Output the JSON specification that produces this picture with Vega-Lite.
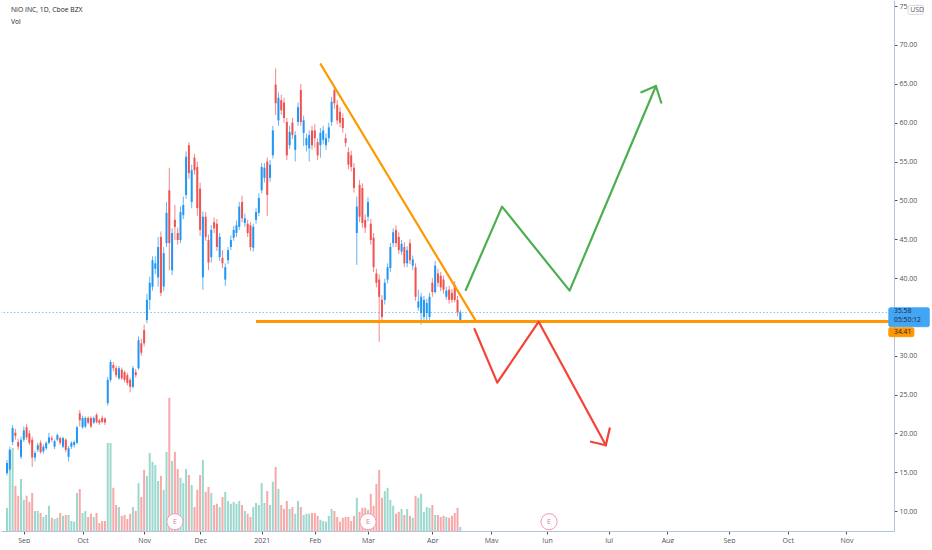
{
  "$schema": "https://vega.github.io/schema/vega-lite/v6.json",
  "width": 893,
  "height": 531,
  "autosize": {"type": "pad"},
  "padding": 0,
  "background": "#ffffff",
  "config": {
    "view": {"stroke": null},
    "axis": {
      "labelFont": "Open Sans",
      "labelFontSize": 7,
      "labelColor": "#50535e",
      "domainColor": "#b4c2da",
      "tickColor": "#50535e",
      "tickSize": 3,
      "grid": false
    }
  },
  "datasets": {
    "candles": [
      {"i":-6,"o":14.9,"h":16.6,"l":14.6,"c":16.2,"v":58},
      {"i":-5,"o":15.4,"h":18.3,"l":15.2,"c":17.9,"v":203},
      {"i":-4,"o":18.9,"h":21.1,"l":18.5,"c":20.7,"v":208},
      {"i":-3,"o":20.1,"h":20.6,"l":19.2,"c":19.7,"v":113},
      {"i":-2,"o":18.9,"h":19.3,"l":17.9,"c":18.3,"v":88},
      {"i":-1,"o":17.0,"h":19.6,"l":16.7,"c":19.2,"v":130},
      {"i":0,"o":19.2,"h":20.9,"l":18.9,"c":20.4,"v":78},
      {"i":1,"o":20.8,"h":21.2,"l":19.2,"c":19.5,"v":88},
      {"i":2,"o":20.0,"h":20.4,"l":18.5,"c":18.8,"v":73},
      {"i":3,"o":19.2,"h":19.6,"l":15.7,"c":16.9,"v":95},
      {"i":4,"o":16.9,"h":17.8,"l":16.4,"c":17.5,"v":50},
      {"i":5,"o":17.9,"h":18.8,"l":17.6,"c":18.5,"v":50},
      {"i":6,"o":18.8,"h":19.1,"l":17.4,"c":17.6,"v":45},
      {"i":7,"o":17.7,"h":18.6,"l":17.4,"c":18.3,"v":35},
      {"i":8,"o":18.1,"h":19.0,"l":17.9,"c":18.8,"v":40},
      {"i":9,"o":18.8,"h":20.1,"l":18.6,"c":19.5,"v":63},
      {"i":10,"o":19.4,"h":19.7,"l":18.9,"c":19.2,"v":33},
      {"i":11,"o":18.3,"h":19.2,"l":18.0,"c":19.0,"v":30},
      {"i":12,"o":19.2,"h":20.0,"l":19.0,"c":19.8,"v":33},
      {"i":13,"o":19.4,"h":19.6,"l":18.5,"c":18.8,"v":45},
      {"i":14,"o":18.3,"h":19.6,"l":18.1,"c":19.4,"v":38},
      {"i":15,"o":19.2,"h":19.4,"l":17.6,"c":17.9,"v":40},
      {"i":16,"o":17.0,"h":18.4,"l":16.4,"c":18.1,"v":40},
      {"i":17,"o":18.3,"h":19.0,"l":18.0,"c":18.8,"v":25},
      {"i":18,"o":18.5,"h":19.1,"l":18.2,"c":18.9,"v":23},
      {"i":19,"o":18.8,"h":21.0,"l":18.6,"c":20.8,"v":95},
      {"i":20,"o":22.6,"h":23.0,"l":20.9,"c":21.7,"v":105},
      {"i":21,"o":20.8,"h":22.3,"l":20.6,"c":22.0,"v":45},
      {"i":22,"o":20.9,"h":22.2,"l":20.7,"c":22.0,"v":50},
      {"i":23,"o":22.0,"h":22.2,"l":21.2,"c":21.4,"v":35},
      {"i":24,"o":22.0,"h":22.2,"l":20.7,"c":20.9,"v":43},
      {"i":25,"o":21.4,"h":22.2,"l":21.2,"c":22.0,"v":35},
      {"i":26,"o":22.4,"h":22.6,"l":21.3,"c":21.5,"v":45},
      {"i":27,"o":21.7,"h":21.9,"l":21.1,"c":21.35,"v":20},
      {"i":28,"o":22.0,"h":22.3,"l":21.3,"c":21.5,"v":25},
      {"i":29,"o":21.9,"h":22.1,"l":21.1,"c":21.4,"v":25},
      {"i":30,"o":23.9,"h":27.3,"l":23.6,"c":26.9,"v":220},
      {"i":31,"o":26.9,"h":29.5,"l":26.6,"c":29.2,"v":220},
      {"i":32,"o":28.8,"h":29.2,"l":28.0,"c":28.4,"v":108},
      {"i":33,"o":28.4,"h":28.7,"l":27.2,"c":27.5,"v":65},
      {"i":34,"o":27.1,"h":28.7,"l":26.9,"c":28.4,"v":60},
      {"i":35,"o":28.2,"h":28.5,"l":26.9,"c":27.1,"v":38},
      {"i":36,"o":27.9,"h":28.1,"l":26.6,"c":26.9,"v":40},
      {"i":37,"o":27.5,"h":27.8,"l":26.2,"c":26.5,"v":30},
      {"i":38,"o":26.9,"h":27.2,"l":25.3,"c":26.0,"v":43},
      {"i":39,"o":26.0,"h":28.7,"l":25.8,"c":28.4,"v":60},
      {"i":40,"o":27.9,"h":28.3,"l":27.2,"c":27.5,"v":50},
      {"i":41,"o":28.4,"h":32.5,"l":28.2,"c":32.0,"v":120},
      {"i":42,"o":31.6,"h":32.2,"l":30.0,"c":30.4,"v":85},
      {"i":43,"o":33.3,"h":34.0,"l":31.2,"c":31.6,"v":153},
      {"i":44,"o":34.6,"h":38.0,"l":34.2,"c":37.2,"v":138},
      {"i":45,"o":37.2,"h":40.2,"l":35.9,"c":39.4,"v":195},
      {"i":46,"o":38.9,"h":42.8,"l":38.4,"c":42.3,"v":173},
      {"i":47,"o":41.2,"h":42.8,"l":40.5,"c":41.9,"v":165},
      {"i":48,"o":40.1,"h":45.3,"l":38.9,"c":44.0,"v":125},
      {"i":49,"o":45.3,"h":46.0,"l":37.7,"c":38.1,"v":138},
      {"i":50,"o":38.9,"h":44.0,"l":38.3,"c":43.2,"v":103},
      {"i":51,"o":44.5,"h":49.8,"l":44.0,"c":48.4,"v":198},
      {"i":52,"o":51.3,"h":54.2,"l":41.0,"c":44.5,"v":333},
      {"i":53,"o":41.0,"h":46.4,"l":40.4,"c":45.8,"v":175},
      {"i":54,"o":47.5,"h":49.4,"l":44.9,"c":46.6,"v":198},
      {"i":55,"o":45.8,"h":46.5,"l":44.3,"c":44.9,"v":155},
      {"i":56,"o":44.9,"h":49.2,"l":44.5,"c":48.5,"v":133},
      {"i":57,"o":48.1,"h":50.5,"l":47.6,"c":49.4,"v":120},
      {"i":58,"o":50.7,"h":56.3,"l":50.2,"c":55.6,"v":155},
      {"i":59,"o":57.1,"h":57.5,"l":52.8,"c":53.5,"v":140},
      {"i":60,"o":49.8,"h":54.6,"l":49.0,"c":53.9,"v":115},
      {"i":61,"o":55.5,"h":56.0,"l":53.3,"c":53.9,"v":60},
      {"i":62,"o":54.3,"h":55.0,"l":48.0,"c":49.0,"v":103},
      {"i":63,"o":51.5,"h":52.3,"l":45.4,"c":46.2,"v":140},
      {"i":64,"o":40.1,"h":48.6,"l":38.5,"c":47.9,"v":178},
      {"i":65,"o":47.9,"h":48.5,"l":44.8,"c":45.3,"v":98},
      {"i":66,"o":44.9,"h":45.6,"l":41.0,"c":42.0,"v":110},
      {"i":67,"o":42.7,"h":46.8,"l":42.0,"c":46.2,"v":95},
      {"i":68,"o":47.2,"h":47.8,"l":45.8,"c":46.4,"v":65},
      {"i":69,"o":47.0,"h":47.6,"l":43.5,"c":44.0,"v":68},
      {"i":70,"o":42.7,"h":45.8,"l":42.2,"c":45.3,"v":60},
      {"i":71,"o":42.6,"h":43.6,"l":41.3,"c":41.9,"v":85},
      {"i":72,"o":39.8,"h":41.9,"l":39.0,"c":41.4,"v":98},
      {"i":73,"o":42.3,"h":44.0,"l":41.8,"c":43.6,"v":75},
      {"i":74,"o":44.0,"h":45.5,"l":43.6,"c":44.9,"v":68},
      {"i":75,"o":45.2,"h":46.7,"l":44.8,"c":46.2,"v":73},
      {"i":76,"o":45.8,"h":47.4,"l":45.3,"c":46.8,"v":68},
      {"i":77,"o":46.6,"h":49.8,"l":46.2,"c":49.2,"v":75},
      {"i":78,"o":49.8,"h":50.6,"l":47.2,"c":47.7,"v":65},
      {"i":79,"o":47.1,"h":48.3,"l":46.6,"c":47.7,"v":50},
      {"i":80,"o":47.0,"h":47.5,"l":45.3,"c":45.8,"v":43},
      {"i":81,"o":46.8,"h":47.2,"l":43.5,"c":44.0,"v":35},
      {"i":82,"o":43.9,"h":47.0,"l":43.4,"c":46.6,"v":60},
      {"i":83,"o":47.5,"h":49.0,"l":47.0,"c":48.5,"v":70},
      {"i":84,"o":48.4,"h":50.9,"l":48.0,"c":50.3,"v":65},
      {"i":85,"o":51.3,"h":54.8,"l":50.9,"c":54.3,"v":120},
      {"i":86,"o":52.9,"h":54.8,"l":52.3,"c":54.2,"v":70},
      {"i":87,"o":55.0,"h":55.5,"l":48.0,"c":50.7,"v":100},
      {"i":88,"o":52.9,"h":55.2,"l":52.4,"c":54.6,"v":65},
      {"i":89,"o":55.8,"h":59.6,"l":55.4,"c":59.0,"v":123},
      {"i":90,"o":64.9,"h":67.0,"l":61.0,"c":62.5,"v":160},
      {"i":91,"o":60.3,"h":63.9,"l":59.6,"c":63.2,"v":105},
      {"i":92,"o":62.9,"h":63.6,"l":61.0,"c":61.6,"v":65},
      {"i":93,"o":62.6,"h":63.2,"l":60.0,"c":60.6,"v":55},
      {"i":94,"o":60.1,"h":60.6,"l":55.2,"c":55.8,"v":75},
      {"i":95,"o":57.1,"h":59.6,"l":56.6,"c":58.8,"v":55},
      {"i":96,"o":60.0,"h":60.6,"l":57.9,"c":58.4,"v":60},
      {"i":97,"o":56.5,"h":58.9,"l":55.0,"c":58.4,"v":43},
      {"i":98,"o":60.1,"h":62.6,"l":59.6,"c":62.0,"v":75},
      {"i":99,"o":64.2,"h":65.0,"l":59.6,"c":60.1,"v":60},
      {"i":100,"o":58.7,"h":60.9,"l":57.0,"c":60.3,"v":40},
      {"i":101,"o":57.1,"h":58.6,"l":56.3,"c":58.0,"v":43},
      {"i":102,"o":56.7,"h":59.0,"l":55.0,"c":58.4,"v":43},
      {"i":103,"o":59.0,"h":59.6,"l":56.5,"c":57.1,"v":45},
      {"i":104,"o":59.0,"h":59.8,"l":56.8,"c":58.0,"v":45},
      {"i":105,"o":57.5,"h":58.0,"l":55.2,"c":55.8,"v":38},
      {"i":106,"o":57.1,"h":59.3,"l":55.5,"c":58.7,"v":28},
      {"i":107,"o":57.8,"h":59.6,"l":57.2,"c":59.0,"v":25},
      {"i":108,"o":57.1,"h":58.6,"l":56.5,"c":58.0,"v":23},
      {"i":109,"o":58.0,"h":60.0,"l":57.5,"c":59.4,"v":38},
      {"i":110,"o":60.1,"h":63.3,"l":59.6,"c":62.7,"v":55},
      {"i":111,"o":64.2,"h":64.5,"l":61.8,"c":62.5,"v":50},
      {"i":112,"o":62.3,"h":62.9,"l":59.8,"c":60.3,"v":35},
      {"i":113,"o":61.4,"h":62.0,"l":59.4,"c":60.0,"v":23},
      {"i":114,"o":60.6,"h":61.2,"l":58.7,"c":59.3,"v":33},
      {"i":115,"o":58.0,"h":58.6,"l":56.9,"c":57.4,"v":35},
      {"i":116,"o":56.2,"h":56.8,"l":54.0,"c":54.6,"v":35},
      {"i":117,"o":55.8,"h":56.4,"l":53.7,"c":54.3,"v":25},
      {"i":118,"o":54.2,"h":54.8,"l":51.0,"c":51.6,"v":38},
      {"i":119,"o":45.8,"h":50.5,"l":41.7,"c":49.2,"v":83},
      {"i":120,"o":52.0,"h":52.6,"l":47.2,"c":47.9,"v":48},
      {"i":121,"o":51.6,"h":52.2,"l":46.5,"c":47.1,"v":58},
      {"i":122,"o":47.5,"h":48.2,"l":45.8,"c":46.5,"v":58},
      {"i":123,"o":47.9,"h":50.4,"l":47.3,"c":49.8,"v":53},
      {"i":124,"o":47.0,"h":47.6,"l":44.3,"c":44.9,"v":93},
      {"i":125,"o":45.2,"h":45.8,"l":40.8,"c":41.4,"v":63},
      {"i":126,"o":40.6,"h":41.2,"l":38.8,"c":39.4,"v":118},
      {"i":127,"o":39.8,"h":40.5,"l":31.8,"c":37.6,"v":153},
      {"i":128,"o":37.2,"h":37.8,"l":34.4,"c":35.0,"v":83},
      {"i":129,"o":37.2,"h":39.9,"l":36.6,"c":39.4,"v":100},
      {"i":130,"o":39.8,"h":41.9,"l":39.3,"c":41.4,"v":108},
      {"i":131,"o":41.3,"h":44.5,"l":40.8,"c":44.0,"v":78},
      {"i":132,"o":44.5,"h":46.4,"l":44.0,"c":45.9,"v":63},
      {"i":133,"o":46.2,"h":46.8,"l":44.0,"c":44.5,"v":43},
      {"i":134,"o":45.3,"h":45.9,"l":43.1,"c":43.6,"v":48},
      {"i":135,"o":43.4,"h":44.9,"l":43.0,"c":44.4,"v":55},
      {"i":136,"o":44.0,"h":44.6,"l":41.4,"c":41.9,"v":40},
      {"i":137,"o":41.9,"h":44.1,"l":41.4,"c":43.6,"v":55},
      {"i":138,"o":44.5,"h":45.0,"l":41.8,"c":42.3,"v":38},
      {"i":139,"o":41.6,"h":42.9,"l":41.0,"c":42.4,"v":33},
      {"i":140,"o":41.4,"h":41.9,"l":37.1,"c":37.6,"v":88},
      {"i":141,"o":36.2,"h":38.5,"l":35.8,"c":37.0,"v":83},
      {"i":142,"o":35.5,"h":38.1,"l":34.0,"c":37.6,"v":93},
      {"i":143,"o":35.0,"h":37.7,"l":34.5,"c":37.2,"v":48},
      {"i":144,"o":35.5,"h":37.3,"l":34.2,"c":36.8,"v":60},
      {"i":145,"o":35.0,"h":38.1,"l":34.6,"c":37.6,"v":58},
      {"i":146,"o":39.4,"h":40.0,"l":37.6,"c":38.2,"v":65},
      {"i":147,"o":38.2,"h":42.2,"l":38.0,"c":41.6,"v":40},
      {"i":148,"o":40.6,"h":41.2,"l":38.9,"c":39.4,"v":40},
      {"i":149,"o":40.3,"h":40.8,"l":38.3,"c":38.8,"v":35},
      {"i":150,"o":39.8,"h":40.3,"l":38.0,"c":38.5,"v":38},
      {"i":151,"o":37.6,"h":38.9,"l":37.2,"c":38.4,"v":35},
      {"i":152,"o":38.5,"h":39.0,"l":36.7,"c":37.2,"v":33},
      {"i":153,"o":38.1,"h":38.6,"l":36.8,"c":37.2,"v":38},
      {"i":154,"o":39.1,"h":39.6,"l":36.9,"c":37.2,"v":45},
      {"i":155,"o":37.2,"h":37.7,"l":35.1,"c":35.6,"v":58},
      {"i":156,"o":34.6,"h":35.9,"l":34.2,"c":35.58,"v":10}
    ],
    "draw": [
      {"g":"trend","s":0,"i":106.1,"p":67.52},
      {"g":"trend","s":1,"i":161.7,"p":34.39},
      {"g":"support","s":0,"i":83.0,"p":34.41},
      {"g":"support","s":1,"i":309.19,"p":34.41},
      {"g":"green","s":0,"i":157.95,"p":38.47},
      {"g":"green","s":1,"i":170.9,"p":49.19},
      {"g":"green","s":2,"i":195.05,"p":38.38},
      {"g":"green","s":3,"i":225.9,"p":64.72},
      {"g":"greenhead","s":0,"i":220.7,"p":63.91},
      {"g":"greenhead","s":1,"i":225.9,"p":64.72},
      {"g":"greenhead","s":2,"i":227.8,"p":62.57},
      {"g":"red","s":0,"i":161.1,"p":33.44},
      {"g":"red","s":1,"i":169.2,"p":26.54},
      {"g":"red","s":2,"i":184.0,"p":34.39},
      {"g":"red","s":3,"i":208.0,"p":18.48},
      {"g":"redhead","s":0,"i":202.7,"p":18.94},
      {"g":"redhead","s":1,"i":208.0,"p":18.48},
      {"g":"redhead","s":2,"i":209.4,"p":20.67}
    ],
    "earn": [{"i":54},{"i":123},{"i":187.7}],
    "boxes": [
      {"k":"usd","x1":316.0,"x2":321.5,"y1":75.1,"y2":73.95},
      {"k":"last","x1":309.1,"x2":323.6,"y1":36.19,"y2":33.74},
      {"k":"level","x1":309.1,"x2":318.1,"y1":33.62,"y2":32.46}
    ],
    "notes": [
      {"k":"head","t":"NIO INC, 1D, Cboe BZX","x":-4.59,"y":74.5},
      {"k":"vol","t":"Vol","x":-4.59,"y":72.96},
      {"k":"usd","t":"USD","x":316.8,"y":74.52},
      {"k":"last","t":"35.58","x":311.0,"y":35.7},
      {"k":"last","t":"05:50:12","x":311.0,"y":34.65},
      {"k":"level","t":"34.41","x":311.0,"y":33.03}
    ]
  },
  "layer": [
    {
      "data": {"name": "candles"},
      "mark": {"type": "bar", "width": 2},
      "encoding": {
        "x": {
          "field": "i", "type": "quantitative", "title": null,
          "scale": {"domain": [-6.36, 309.19], "nice": false, "zero": false},
          "axis": {
            "orient": "bottom",
            "values": [0,21,43,63,85,104,123,146,167,187,209,230,252,273,294],
            "labelExpr": "['Sep','Oct','Nov','Dec','2021','Feb','Mar','Apr','May','Jun','Jul','Aug','Sep','Oct','Nov'][indexof([0,21,43,63,85,104,123,146,167,187,209,230,252,273,294], datum.value)]",
            "labelFlush": false,
            "labelOverlap": false,
            "labelPadding": 2
          }
        },
        "y": {"field": "v", "type": "quantitative", "scale": {"domain": [0, 1327.5], "nice": false, "zero": true}, "axis": null},
        "color": {"condition": {"test": "datum.c >= datum.o", "value": "#9dd8cf"}, "value": "#f6a9a8"}
      }
    },
    {
      "data": {"name": "candles"},
      "mark": {"type": "rule", "strokeWidth": 1, "opacity": 0.7},
      "encoding": {
        "x": {"field": "i", "type": "quantitative", "title": null, "scale": {"domain": [-6.36, 309.19], "nice": false, "zero": false}},
        "y": {
          "field": "l", "type": "quantitative", "title": null,
          "scale": {"domain": [7.45, 75.79], "nice": false, "zero": false},
          "axis": {
            "orient": "right",
            "values": [10,15,20,25,30,40,45,50,55,60,65,70,75],
            "labelExpr": "datum.value === 75 ? '75' : format(datum.value, '.2f')",
            "labelPadding": 2,
            "labelFlush": false,
            "labelOverlap": false
          }
        },
        "y2": {"field": "h"},
        "color": {"condition": {"test": "datum.c >= datum.o", "value": "#2196f3"}, "value": "#ef5350"}
      }
    },
    {
      "data": {"name": "candles"},
      "mark": {"type": "bar", "width": 2},
      "encoding": {
        "x": {"field": "i", "type": "quantitative", "title": null, "scale": {"domain": [-6.36, 309.19], "nice": false, "zero": false}},
        "y": {"field": "o", "type": "quantitative", "scale": {"domain": [7.45, 75.79], "nice": false, "zero": false}, "axis": null},
        "y2": {"field": "c"},
        "color": {"condition": {"test": "datum.c >= datum.o", "value": "#2196f3"}, "value": "#ef5350"}
      }
    },
    {
      "data": {"name": "candles"},
      "transform": [{"filter": "datum.i === 156"}],
      "mark": {"type": "rule", "color": "#2196f3", "strokeDash": [1.5, 2], "strokeWidth": 1, "opacity": 0.6},
      "encoding": {
        "y": {"field": "c", "type": "quantitative", "scale": {"domain": [7.45, 75.79], "nice": false, "zero": false}, "axis": null}
      }
    },
    {
      "data": {"name": "draw"},
      "transform": [{"filter": "datum.g === 'support'"}],
      "mark": {"type": "line", "color": "#ff9800", "strokeWidth": 3},
      "encoding": {
        "x": {"field": "i", "type": "quantitative", "title": null, "scale": {"domain": [-6.36, 309.19], "nice": false, "zero": false}},
        "y": {"field": "p", "type": "quantitative", "scale": {"domain": [7.45, 75.79], "nice": false, "zero": false}, "axis": null},
        "order": {"field": "s"}
      }
    },
    {
      "data": {"name": "draw"},
      "transform": [{"filter": "datum.g !== 'support'"}],
      "mark": {"type": "line", "strokeWidth": 2.2, "strokeCap": "round", "strokeJoin": "round"},
      "encoding": {
        "x": {"field": "i", "type": "quantitative", "title": null, "scale": {"domain": [-6.36, 309.19], "nice": false, "zero": false}},
        "y": {"field": "p", "type": "quantitative", "scale": {"domain": [7.45, 75.79], "nice": false, "zero": false}, "axis": null},
        "color": {
          "field": "g", "type": "nominal",
          "scale": {"domain": ["trend","green","greenhead","red","redhead"], "range": ["#ff9800","#4caf50","#4caf50","#f44336","#f44336"]},
          "legend": null
        },
        "detail": {"field": "g"},
        "order": {"field": "s"}
      }
    },
    {
      "data": {"name": "earn"},
      "mark": {"type": "point", "shape": "circle", "filled": true, "fill": "#ffffff", "stroke": "#f29bb0", "strokeWidth": 1, "opacity": 1, "size": 260},
      "encoding": {
        "x": {"field": "i", "type": "quantitative", "title": null, "scale": {"domain": [-6.36, 309.19], "nice": false, "zero": false}},
        "y": {"datum": 8.65, "type": "quantitative", "scale": {"domain": [7.45, 75.79], "nice": false, "zero": false}, "axis": null}
      }
    },
    {
      "data": {"name": "earn"},
      "mark": {"type": "text", "text": "E", "font": "Open Sans", "fontSize": 7, "color": "#e8768f", "align": "center", "baseline": "middle"},
      "encoding": {
        "x": {"field": "i", "type": "quantitative", "title": null, "scale": {"domain": [-6.36, 309.19], "nice": false, "zero": false}},
        "y": {"datum": 8.65, "type": "quantitative", "scale": {"domain": [7.45, 75.79], "nice": false, "zero": false}, "axis": null}
      }
    },
    {
      "data": {"name": "boxes"},
      "mark": {"type": "rect", "strokeWidth": 0.8, "cornerRadius": 1.5},
      "encoding": {
        "x": {"field": "x1", "type": "quantitative", "title": null, "scale": {"domain": [-6.36, 309.19], "nice": false, "zero": false}},
        "x2": {"field": "x2"},
        "y": {"field": "y1", "type": "quantitative", "scale": {"domain": [7.45, 75.79], "nice": false, "zero": false}, "axis": null},
        "y2": {"field": "y2"},
        "fill": {"field": "k", "type": "nominal", "scale": {"domain": ["usd","last","level"], "range": ["#ffffff","#42a5f5","#ff9800"]}, "legend": null},
        "stroke": {"field": "k", "type": "nominal", "scale": {"domain": ["usd","last","level"], "range": ["#c5cbd6","#42a5f5","#ff9800"]}, "legend": null}
      }
    },
    {
      "data": {"name": "notes"},
      "mark": {"type": "text", "font": "Open Sans", "align": "left", "baseline": "middle"},
      "encoding": {
        "x": {"field": "x", "type": "quantitative", "title": null, "scale": {"domain": [-6.36, 309.19], "nice": false, "zero": false}},
        "y": {"field": "y", "type": "quantitative", "scale": {"domain": [7.45, 75.79], "nice": false, "zero": false}, "axis": null},
        "text": {"field": "t"},
        "size": {"field": "k", "type": "nominal", "scale": {"domain": ["head","vol","usd","last","level"], "range": [6.8,6.8,5.3,6.4,6.6]}, "legend": null},
        "fontWeight": {"condition": {"test": "datum.k === 'head'", "value": "bold"}, "value": "normal"},
        "color": {"condition": {"test": "datum.k === 'usd'", "value": "#50535e"}, "value": "#1b2430"}
      }
    }
  ],
  "resolve": {"scale": {"y": "independent"}}
}
